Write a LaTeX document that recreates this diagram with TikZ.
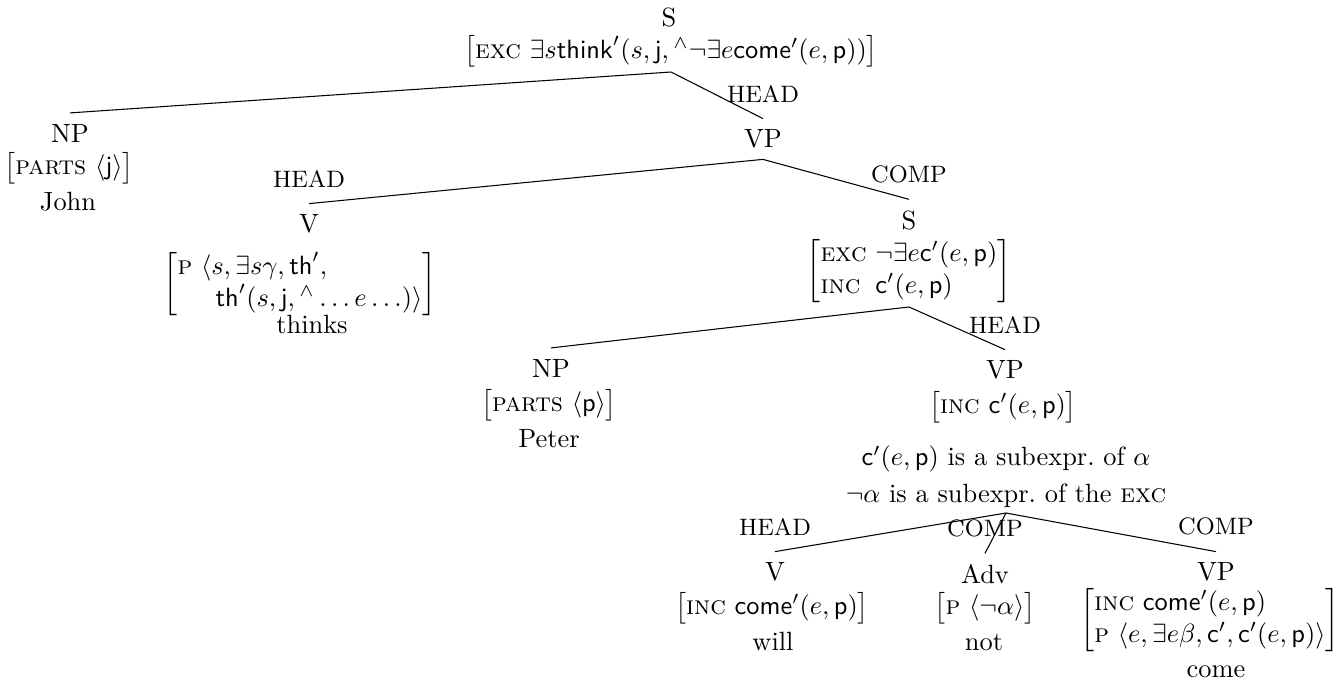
\documentclass[tikz,border=0pt]{standalone}
\usepackage{amsmath}
\usepackage{fontspec}
\newcommand{\feat}[1]{\textsc{#1}}
\newcommand{\cn}[1]{\mathsf{#1}}
\newcommand{\hatop}{{}^{\wedge}}
\newcommand{\avm}[1]{$\left[\begin{array}{@{}l@{\ }l@{}}#1\end{array}\right]$}
\newcommand{\avmone}[1]{$\left[\begin{array}{@{}l@{}}#1\end{array}\right]$}

\tikzset{
  cat/.style={inner sep=4pt},
  fs/.style={inner sep=1.5pt},
  word/.style={anchor=base},
  note/.style={align=center, inner sep=2pt},
  edgelbl/.style={above, yshift=4pt, font=\small, inner sep=2pt}
}

\begin{document}
\begin{tikzpicture}[x=0.379pt, y=-0.379pt]
  \useasboundingbox (0,0) rectangle (1337,699);
  % top S
  \node[cat] (sTop) at (669,17) {S};
  \node[fs, anchor=south] (sTopFs) at (671,72) {\avm{\feat{exc} & \exists s\cn{think}'(s,\cn{j},\hatop\neg\exists e\cn{come}'(e,\cn{p}))}};
  % NP John
  \node[cat] (npJohn) at (70,133) {NP};
  \node[fs] (npJohnFs) at (69,168) {\avm{\feat{parts} & \langle\cn{j}\rangle}};
  \node[word] (npJohnW) at (68,210) {John};
  % VP
  \node[cat] (vpTop) at (763,139) {VP};
  % V thinks
  \node[cat] (vThink) at (309,224) {V};
  \node[fs] (vThinkFs) at (300,284) {\avm{\feat{p} & \langle s,\exists s\gamma,\cn{th}', \\ & \phantom{\langle}\,\cn{th}'(s,\cn{j},\hatop\ldots e\ldots)\rangle}};
  \node[word] (vThinkW) at (312,333) {thinks};
  % embedded S
  \node[cat] (sEmb) at (909,220) {S};
  \node[fs, anchor=south] (sEmbFs) at (909,307) {\avm{\feat{exc} & \neg\exists e\cn{c}'(e,\cn{p}) \\ \feat{inc} & \cn{c}'(e,\cn{p})}};
  % NP Peter
  \node[cat] (npPeter) at (551,368) {NP};
  \node[fs] (npPeterFs) at (549,405) {\avm{\feat{parts} & \langle\cn{p}\rangle}};
  \node[word] (npPeterW) at (549,447) {Peter};
  % lower VP
  \node[cat] (vpLow) at (1005,370) {VP};
  \node[fs] (vpLowFs) at (1003,407) {\avmone{\feat{inc}\ \cn{c}'(e,\cn{p})}};
  \node[note, anchor=south] (vpLowNote) at (1006,513) {$\cn{c}'(e,\cn{p})$ is a subexpr.\ of $\alpha$\\[1.7pt]
    $\neg\alpha$ is a subexpr.\ of the \feat{exc}};
  % V will
  \node[cat] (vWill) at (775,572) {V};
  \node[fs] (vWillFs) at (772,608) {\avm{\feat{inc} & \cn{come}'(e,\cn{p})}};
  \node[word] (vWillW) at (773,650) {will};
  % Adv not
  \node[cat] (advNot) at (985,574) {Adv};
  \node[fs] (advNotFs) at (985,608) {\avm{\feat{p} & \langle\neg\alpha\rangle}};
  \node[word] (advNotW) at (984,650) {not};
  % VP come
  \node[cat] (vpCome) at (1216,572) {VP};
  \node[fs] (vpComeFs) at (1210,620) {\avmone{\feat{inc}\ \cn{come}'(e,\cn{p}) \\ \feat{p}\ \langle e,\exists e\beta,\cn{c}',\cn{c}'(e,\cn{p})\rangle}};
  \node[word] (vpComeW) at (1216,677) {come};
  % branches
  \draw (sTopFs.south) -- (npJohn.north);
  \draw (sTopFs.south) -- (vpTop.north) node[edgelbl] (lblTopHead) {HEAD};
  \draw (vpTop.south) -- (vThink.north) node[edgelbl] (lblThinkHead) {HEAD};
  \draw (vpTop.south) -- (sEmb.north) node[edgelbl] (lblEmbComp) {COMP};
  \draw (sEmbFs.south) -- (npPeter.north);
  \draw (sEmbFs.south) -- (vpLow.north) node[edgelbl] (lblLowHead) {HEAD};
  \draw (vpLowNote.south) -- (vWill.north) node[edgelbl] (lblWillHead) {HEAD};
  \draw (vpLowNote.south) -- (advNot.north) node[edgelbl] (lblNotComp) {COMP};
  \draw (vpLowNote.south) -- (vpCome.north) node[edgelbl] (lblComeComp) {COMP};
\end{tikzpicture}
\end{document}
